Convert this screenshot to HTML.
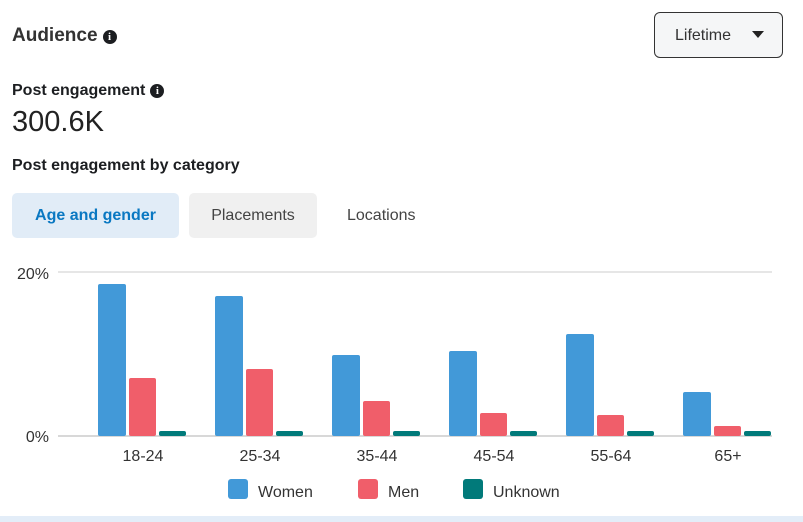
<!DOCTYPE html>
<html><head><style>
body{margin:0;width:803px;height:522px;background:#fff;font-family:"Liberation Sans",sans-serif;color:#1c1e21;position:relative;overflow:hidden}
.a{position:absolute}
.info{display:inline-block;width:14px;height:14px;border-radius:50%;background:#1c1e21;color:#fff;font-size:11px;font-weight:bold;text-align:center;line-height:14px;font-family:"Liberation Serif",serif;vertical-align:1px;margin-left:5px}
</style></head><body>
<div class="a" style="left:12px;top:25px;font-size:19px;font-weight:bold;color:#333">Audience<span class="info">i</span></div>
<div class="a" style="left:654px;top:12px;width:129px;height:46px;border:1px solid #333;border-radius:6px;box-sizing:border-box;background:#f5f6f7;font-size:16px;line-height:46px;padding-left:20px;color:#333">Lifetime <span style="position:absolute;left:97px;top:18px;width:0;height:0;border-left:6px solid transparent;border-right:6px solid transparent;border-top:7px solid #222"></span></div>
<div class="a" style="left:12px;top:82px;font-size:16px;font-weight:bold">Post engagement<span class="info">i</span></div>
<div class="a" style="left:12px;top:106px;font-size:29px;color:#222">300.6K</div>
<div class="a" style="left:12px;top:157px;font-size:16px;font-weight:bold">Post engagement by category</div>
<div class="a" style="left:12px;top:193px;width:167px;height:45px;background:#e1ecf7;border-radius:5px;color:#0a78c2;font-weight:bold;font-size:16px;line-height:45px;text-align:center">Age and gender</div>
<div class="a" style="left:189px;top:193px;width:128px;height:45px;background:#f0f0f0;border-radius:5px;color:#444;font-size:16px;line-height:45px;text-align:center">Placements</div>
<div class="a" style="left:347px;top:193px;height:45px;color:#444;font-size:16px;line-height:45px">Locations</div>
<svg class="a" style="left:0;top:0" width="803" height="522">
<line x1="58" y1="272" x2="772" y2="272" stroke="#ddd" stroke-width="1.5"/>
<line x1="58" y1="436" x2="772" y2="436" stroke="#ccc" stroke-width="1.5"/>
<g font-family="Liberation Sans" font-size="16" fill="#333">
<text x="49" y="279" text-anchor="end">20%</text>
<text x="49" y="442" text-anchor="end">0%</text>
</g>
<g id="bars"></g>
<g font-family="Liberation Sans" font-size="16" fill="#333" text-anchor="middle">
<text x="143" y="461">18-24</text><text x="260" y="461">25-34</text><text x="377" y="461">35-44</text><text x="494" y="461">45-54</text><text x="611" y="461">55-64</text><text x="728" y="461">65+</text>
</g>
<rect x="228" y="479" width="20" height="20" rx="3" fill="#4299d8"/><text x="258" y="497" font-family="Liberation Sans" font-size="16" fill="#333">Women</text>
<rect x="358" y="479" width="20" height="20" rx="3" fill="#f05e6a"/><text x="388" y="497" font-family="Liberation Sans" font-size="16" fill="#333">Men</text>
<rect x="463" y="479" width="20" height="20" rx="3" fill="#017a7a"/><text x="493" y="497" font-family="Liberation Sans" font-size="16" fill="#333">Unknown</text>
<rect x="0" y="516" width="803" height="6" fill="#e3edf8"/>
</svg>
<script>
var w=[284,296,355,351,334,392],m=[378,369,401,413,415,426],s='';
for(var i=0;i<6;i++){var x=98+117*i;
s+='<rect x="'+x+'" y="'+w[i]+'" width="28" height="'+(436-w[i])+'" rx="2" fill="#4299d8"/>';
s+='<rect x="'+(x+31)+'" y="'+m[i]+'" width="27" height="'+(436-m[i])+'" rx="2" fill="#f05e6a"/>';
s+='<rect x="'+(x+61)+'" y="431" width="27" height="5" rx="2" fill="#017a7a"/>';}
document.getElementById('bars').innerHTML=s;
</script>
</body></html>
